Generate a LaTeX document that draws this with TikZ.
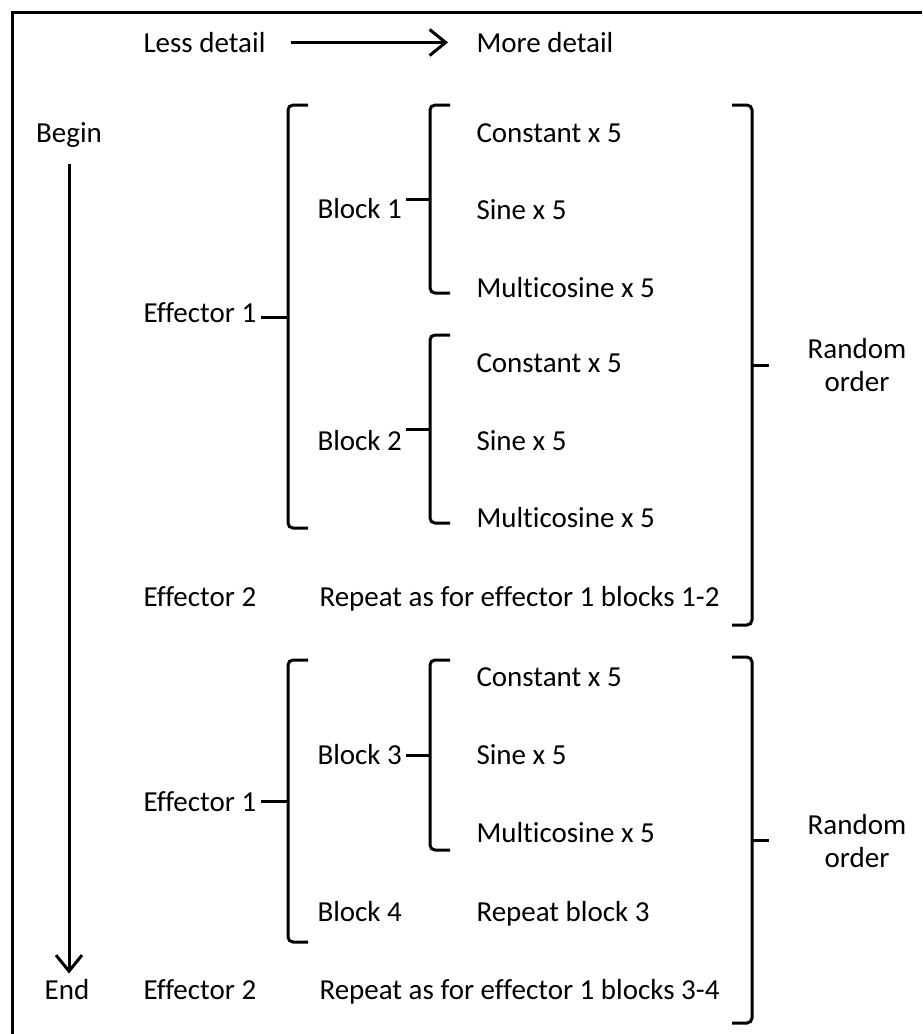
\documentclass[tikz,border=0pt]{standalone}
\usepackage{fontspec}
\setmainfont[Ligatures=NoCommon]{Carlito}
\usetikzlibrary{arrows.meta}

\begin{document}
\begin{tikzpicture}[x=1pt,y=-1pt,line width=3pt,>={Straight Barb[length=16pt,width=26pt]},
  lbl/.style={anchor=base west,inner sep=3pt,text height=19pt,text depth=0pt,font=\fontsize{29}{33}\selectfont},
  rnd/.style={align=center,inner sep=3pt,font=\fontsize{29}{33}\selectfont},
  brk/.style={rounded corners=5pt}]
 \useasboundingbox (0,0) rectangle (922,1034);
 % frame
 \draw (12,1034) -- (12,12) -- (922,12);
 % detail axis
 \node[lbl] (less) at (139,52) {Less detail};
 \node[lbl] (more) at (472,52) {More detail};
 \draw[->,shorten <=21pt,shorten >=24pt] (less.east) -- (more.west);
 % time axis
 \node[lbl,anchor=base] (begin) at (69,142) {Begin};
 \node[lbl,anchor=base] (end) at (67,999) {End};
 \draw[->,shorten <=17pt,shorten >=2pt] (begin.south) -- (begin.south |- end.north);
 % effectors and blocks
 \foreach \nm/\x/\y/\txt in {eff1a/139/322/Effector 1,eff2a/139/606/Effector 2,
     eff1b/139/811/Effector 1,eff2b/139/999/Effector 2,
     blk1/313/218/Block 1,blk2/313/450/Block 2,blk3/313/764/Block 3,blk4/313/921/Block 4,
     rep1/315/606/Repeat as for effector 1 blocks 1-2,rep2/315/999/Repeat as for effector 1 blocks 3-4,
     rep3/472/921/Repeat block 3}
   \node[lbl] (\nm) at (\x,\y) {\txt};
 % trials
 \foreach \i/\ya/\yb/\yc in {1/142/219/297,2/372/450/527,3/686/764/842}{
   \node[lbl] (con\i) at (472,\ya) {Constant x 5};
   \node[lbl] (sin\i) at (472,\yb) {Sine x 5};
   \node[lbl] (mul\i) at (472,\yc) {Multicosine x 5};}
 \node[rnd] (rand1) at (857,365) {Random\\order};
 \node[rnd] (rand2) at (857,841) {Random\\order};
 % left brackets
 \foreach \x/\t/\b in {288/105/528,430/105/293,430/335/523,288/660/942,430/660/850}
   \draw[brk] (\x+20,\t) -- (\x,\t) -- (\x,\b) -- (\x+20,\b);
 % right brackets
 \foreach \t/\b in {105/625,657/1023}
   \draw[brk] (732,\t) -- (752,\t) -- (752,\b) -- (732,\b);
 % ticks
 \coordinate (mA1) at (288,317);
 \coordinate (mB1) at (430,199);
 \coordinate (mB2) at (430,429);
 \coordinate (mA2) at (288,801);
 \coordinate (mB3) at (430,755);
 \coordinate (mR1) at (752,365);
 \coordinate (mR2) at (752,840);
 \draw (eff1a.east |- mA1) -- (mA1);
 \draw (blk1.east |- mB1) -- (mB1);
 \draw (blk2.east |- mB2) -- (mB2);
 \draw (eff1b.east |- mA2) -- (mA2);
 \draw (blk3.east |- mB3) -- (mB3);
 \draw[shorten >=34pt] (mR1) -- (rand1.west |- mR1);
 \draw[shorten >=34pt] (mR2) -- (rand2.west |- mR2);
\end{tikzpicture}
\end{document}
